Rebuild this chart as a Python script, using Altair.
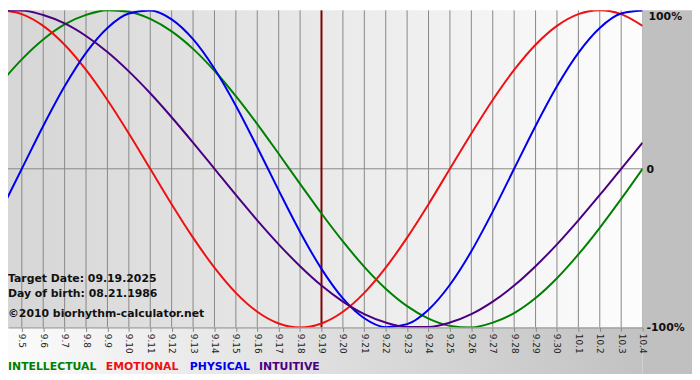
import altair as alt
import pandas as pd

# ---------------- data ----------------
day_labels = ["9.4", "9.5", "9.6", "9.7", "9.8", "9.9", "9.10", "9.11", "9.12", "9.13",
              "9.14", "9.15", "9.16", "9.17", "9.18", "9.19", "9.20", "9.21", "9.22", "9.23",
              "9.24", "9.25", "9.26", "9.27", "9.28", "9.29", "9.30", "10.1", "10.2", "10.3", "10.4"]

intellectual = [0.54, 0.69, 0.815, 0.91, 0.97, 1.0, 0.99, 0.945, 0.866, 0.756,
                0.618, 0.458, 0.282, 0.095, -0.095, -0.282, -0.458, -0.618, -0.756, -0.866,
                -0.945, -0.99, -1.0, -0.97, -0.91, -0.815, -0.69, -0.54, -0.372, -0.19, 0.0]
emotional = [1.0, 0.975, 0.901, 0.782, 0.623, 0.434, 0.223, 0.0, -0.223, -0.434,
             -0.623, -0.782, -0.901, -0.975, -1.0, -0.975, -0.901, -0.782, -0.623, -0.434,
             -0.223, 0.0, 0.223, 0.434, 0.623, 0.782, 0.901, 0.975, 1.0, 0.975, 0.901]
physical = [-0.27, 0.0, 0.27, 0.52, 0.731, 0.888, 0.979, 0.998, 0.942, 0.817,
            0.631, 0.398, 0.136, -0.136, -0.398, -0.631, -0.817, -0.942, -0.998, -0.979,
            -0.888, -0.731, -0.52, -0.27, 0.0, 0.27, 0.52, 0.731, 0.888, 0.979, 0.998]
intuitive = [0.997, 0.997, 0.969, 0.916, 0.837, 0.736, 0.614, 0.476, 0.325, 0.165,
             0.0, -0.165, -0.325, -0.476, -0.614, -0.736, -0.837, -0.916, -0.969, -0.997,
             -0.997, -0.969, -0.916, -0.837, -0.736, -0.614, -0.476, -0.325, -0.165, 0.0, 0.165]

series_names = ["INTELLECTUAL", "EMOTIONAL", "PHYSICAL", "INTUITIVE"]
series_colors = ["#008000", "#ee1111", "#0000ee", "#4b0082"]
series_values = [intellectual, emotional, physical, intuitive]

target_day = "9.19"
info_lines = ["Target Date: 09.19.2025", "Day of birth: 08.21.1986", "\u00a92010 biorhythm-calculator.net"]
y_labels = ["100%", "0", "-100%"]
y_label_values = [1, 0, -1]

# ---------------- tables ----------------
rows = []
for name, vals in zip(series_names, series_values):
    for i, v in enumerate(vals):
        rows.append({"d": i, "value": v, "series": name})
curves = pd.DataFrame(rows)
days = pd.DataFrame({"d": list(range(len(day_labels))), "label": day_labels})
one = pd.DataFrame({"a": [0]})

W, H = 642, 321
FONT = "DejaVu Sans"

label_array = "[" + ",".join("'" + l + "'" for l in day_labels) + "]"
xscale = alt.Scale(domain=[0.355, len(day_labels) - 1], nice=False, zero=False)
yscale = alt.Scale(domain=[-1, 1], nice=False, zero=False)
x_axis = alt.Axis(values=list(range(1, len(day_labels))), labelExpr=label_array + "[datum.value]",
                  labelAngle=90, grid=False, title=None, labelFont=FONT, labelFontSize=9,
                  labelColor="#222222", labelPadding=2, tickSize=4, tickColor="#888888",
                  domainColor="#888888", labelOverlap=False, labelFlush=False, labelBound=False,
                  zindex=1)
X = alt.X("d:Q", scale=xscale, axis=x_axis)
Y = alt.Y("value:Q", scale=yscale, axis=None)

def grad(stops, x2=1, y2=0):
    return alt.LinearGradient(gradient="linear",
                              stops=[alt.GradientStop(color=c, offset=o) for o, c in stops],
                              x1=0, y1=0, x2=x2, y2=y2)

right_bg = alt.Chart(one).mark_rect(color="#c0c0c0").encode(
    x=alt.value(W), x2=alt.value(W + 50), y=alt.value(0), y2=alt.value(368))
bottom_bg = alt.Chart(one).mark_rect(color=grad([(0, "#fbfbfb"), (1, "#c2c2c2")])).encode(
    x=alt.value(0), x2=alt.value(W), y=alt.value(H), y2=alt.value(368))
plot_bg = alt.Chart(one).mark_rect(color=grad([(0, "#d6d6d6"), (1, "#fdfdfd")])).encode(
    x=alt.value(0), x2=alt.value(W), y=alt.value(0), y2=alt.value(H))

grid = alt.Chart(days).mark_rule(color="#888888", strokeWidth=1, clip=True).encode(x=X)
zero = alt.Chart(pd.DataFrame({"value": [0]})).mark_rule(color="#888888", strokeWidth=1).encode(y=Y)
target = alt.Chart(days[days["label"] == target_day]).mark_rule(
    color="#800000", strokeWidth=2, clip=True).encode(x=X)

lines = alt.Chart(curves).mark_line(strokeWidth=2, interpolate="monotone", clip=True).encode(
    x=X, y=Y,
    color=alt.Color("series:N", scale=alt.Scale(domain=series_names, range=series_colors), legend=None),
    detail="series:N")

ylab_df = pd.DataFrame({"value": y_label_values, "label": y_labels})
ylab_top = alt.Chart(ylab_df.iloc[:1]).mark_text(
    align="left", baseline="top", font=FONT, fontSize=11, fontWeight="bold", color="#111111", dy=1
).encode(x=alt.value(648), y=Y, text="label:N")
ylab_rest = alt.Chart(ylab_df.iloc[1:]).mark_text(
    align="left", baseline="middle", font=FONT, fontSize=11, fontWeight="bold", color="#111111", dy=1
).encode(x=alt.value(646), y=Y, text="label:N")

info_layers = []
for txt, yy in zip(info_lines, [272, 287, 307]):
    info_layers.append(alt.Chart(one).mark_text(
        align="left", baseline="middle", font=FONT, fontSize=11, fontWeight="bold",
        color="#111111", text=txt).encode(x=alt.value(0), y=alt.value(yy)))

legend_layers = []
for name, col, xx in zip(series_names, series_colors, [0, 99, 184, 254]):
    legend_layers.append(alt.Chart(one).mark_text(
        align="left", baseline="middle", font=FONT, fontSize=11, fontWeight="bold",
        color=col, text=name).encode(x=alt.value(xx), y=alt.value(361)))

chart = alt.layer(
    right_bg, bottom_bg, plot_bg, grid, zero, target, lines, ylab_top, ylab_rest,
    *info_layers, *legend_layers
).properties(
    width=W, height=H,
    autosize=alt.AutoSizeParams(type="none"),
    padding={"left": 0, "top": 0, "right": 50, "bottom": 51},
    background="white",
).configure_view(stroke=None)

chart.save("out.html", embed_options={"renderer": "svg", "actions": False})
